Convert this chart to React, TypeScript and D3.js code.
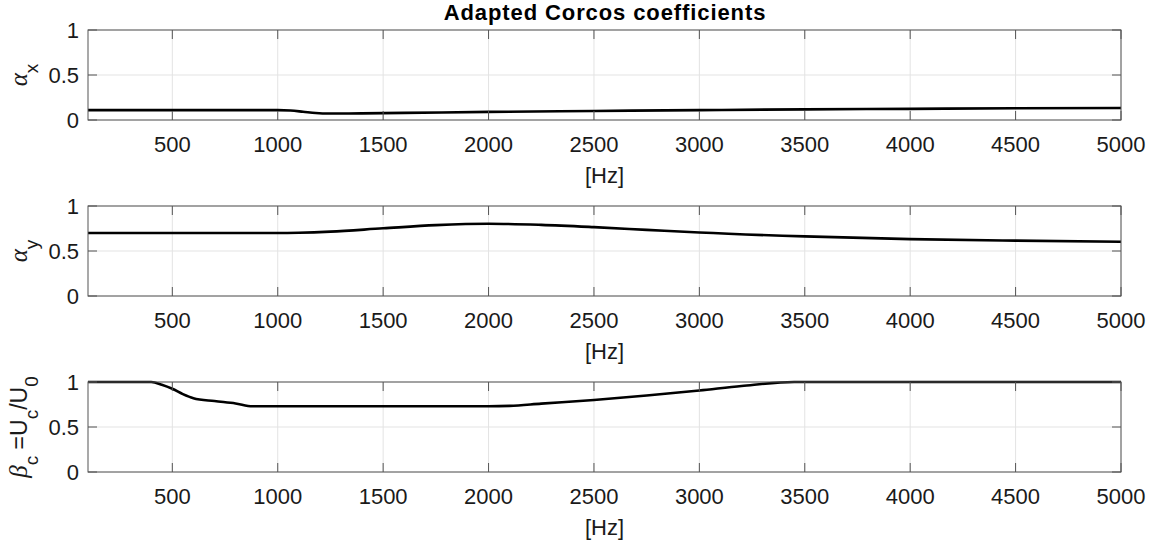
import React from "react";
import * as d3 from "d3";

// ---------- data ----------
const freqTicks = [500, 1000, 1500, 2000, 2500, 3000, 3500, 4000, 4500, 5000];
const yTicks = [0, 0.5, 1];
const yTickLabels = ["0", "0.5", "1"];

const alphaXFreq = [100, 1000, 1060, 1120, 1180, 1240, 1400, 1600, 2000, 2500, 3000, 3500, 4000, 4500, 5000];
const alphaXVals = [0.11, 0.11, 0.105, 0.092, 0.078, 0.072, 0.074, 0.079, 0.09, 0.1, 0.11, 0.118, 0.124, 0.13, 0.134];

const alphaYFreq = [100, 1000, 1100, 1250, 1500, 1750, 2000, 2250, 2500, 2750, 3000, 3500, 4000, 4500, 5000];
const alphaYVals = [0.7, 0.7, 0.703, 0.715, 0.752, 0.787, 0.803, 0.79, 0.765, 0.735, 0.705, 0.662, 0.632, 0.615, 0.603];

const betaFreq = [100, 400, 450, 500, 550, 600, 700, 800, 880, 1000, 2000, 2100, 2250, 2500, 2750, 3000, 3200, 3450, 5000];
const betaVals = [1, 1, 0.97, 0.925, 0.865, 0.82, 0.788, 0.762, 0.73, 0.73, 0.73, 0.735, 0.76, 0.8, 0.85, 0.905, 0.955, 1.0, 1.0];

const titleText = "Adapted Corcos coefficients";
const xLabelText = "[Hz]";

// ---------- layout ----------
const W = 1160;
const H = 544;
const left = 88;
const right = 1121;
const panelTops = [30, 206, 382];
const panelH = 90;
const sans = "'Liberation Sans', Arial, Helvetica, sans-serif";
const serif = "'Liberation Serif', 'Times New Roman', serif";

type PanelProps = {
  top: number;
  freq: number[];
  vals: number[];
  ylabel: React.ReactNode;
};

function Panel({ top, freq, vals, ylabel }: PanelProps) {
  const x = d3.scaleLinear().domain([100, 5000]).range([left, right]);
  const y = d3.scaleLinear().domain([0, 1]).range([top + panelH, top]);
  const pts: [number, number][] = freq.map((f, i) => [f, vals[i]]);
  const line = d3
    .line<[number, number]>()
    .x((d) => x(d[0]))
    .y((d) => y(d[1]))
    .curve(d3.curveMonotoneX);
  const bottom = top + panelH;
  const tickLen = 9;
  return (
    <g>
      {freqTicks.map((t) => (
        <line key={"gx" + t} x1={x(t)} x2={x(t)} y1={top} y2={bottom} stroke="#e3e3e3" strokeWidth={1} />
      ))}
      {yTicks.map((t) => (
        <line key={"gy" + t} x1={left} x2={right} y1={y(t)} y2={y(t)} stroke="#e3e3e3" strokeWidth={1} />
      ))}
      <path d={line(pts) || ""} fill="none" stroke="#000" strokeWidth={2.6} strokeLinejoin="round" />
      {freqTicks.map((t) => (
        <g key={"tx" + t}>
          <line x1={x(t)} x2={x(t)} y1={bottom} y2={bottom - tickLen} stroke="#555" strokeWidth={1} />
          <line x1={x(t)} x2={x(t)} y1={top} y2={top + tickLen} stroke="#555" strokeWidth={1} />
          <text x={x(t)} y={bottom + 31.5} textAnchor="middle" fontFamily={sans} fontSize={22} fill="#1a1a1a">
            {t}
          </text>
        </g>
      ))}
      {yTicks.map((t, i) => (
        <g key={"ty" + t}>
          <line x1={left} x2={left + tickLen} y1={y(t)} y2={y(t)} stroke="#555" strokeWidth={1} />
          <line x1={right} x2={right - tickLen} y1={y(t)} y2={y(t)} stroke="#555" strokeWidth={1} />
          <text x={79} y={y(t)} dy="0.36em" textAnchor="end" fontFamily={sans} fontSize={22} fill="#1a1a1a">
            {yTickLabels[i]}
          </text>
        </g>
      ))}
      <rect x={left} y={top} width={right - left} height={panelH} fill="none" stroke="#555" strokeWidth={1} />
      <text x={(left + right) / 2} y={bottom + 63} textAnchor="middle" fontFamily={sans} fontSize={22} fill="#1a1a1a">
        {xLabelText}
      </text>
      <text
        transform={`translate(27, ${top + panelH / 2}) rotate(-90)`}
        textAnchor="middle"
        fontFamily={sans}
        fontSize={23}
        fill="#1a1a1a"
      >
        {ylabel}
      </text>
    </g>
  );
}

const SUB = 11;
const SUBSIZE = 19;

export default function App() {
  const ax = (
    <>
      <tspan fontFamily={serif} fontStyle="italic" fontSize={25}>α</tspan>
      <tspan fontSize={SUBSIZE} dy={SUB}>x</tspan>
    </>
  );
  const ay = (
    <>
      <tspan fontFamily={serif} fontStyle="italic" fontSize={25}>α</tspan>
      <tspan fontSize={SUBSIZE} dy={SUB}>y</tspan>
    </>
  );
  const bc = (
    <>
      <tspan fontFamily={serif} fontStyle="italic" fontSize={25}>β</tspan>
      <tspan fontSize={SUBSIZE} dy={SUB}>c</tspan>
      <tspan dy={-SUB}> =U</tspan>
      <tspan fontSize={SUBSIZE} dy={SUB}>c</tspan>
      <tspan dy={-SUB}>/U</tspan>
      <tspan fontSize={SUBSIZE} dy={SUB}>0</tspan>
    </>
  );
  return (
    <svg
      width={W}
      height={H}
      viewBox={`0 0 ${W} ${H}`}
      style={{ position: "absolute", left: 0, top: 0, background: "#fff" }}
    >
      <rect x={0} y={0} width={W} height={H} fill="#fff" />
      <text
        x={605}
        y={20}
        textAnchor="middle"
        fontFamily={sans}
        fontWeight="bold"
        fontSize={22}
        letterSpacing={0.9}
        fill="#000"
      >
        {titleText}
      </text>
      <Panel top={panelTops[0]} freq={alphaXFreq} vals={alphaXVals} ylabel={ax} />
      <Panel top={panelTops[1]} freq={alphaYFreq} vals={alphaYVals} ylabel={ay} />
      <Panel top={panelTops[2]} freq={betaFreq} vals={betaVals} ylabel={bc} />
    </svg>
  );
}
